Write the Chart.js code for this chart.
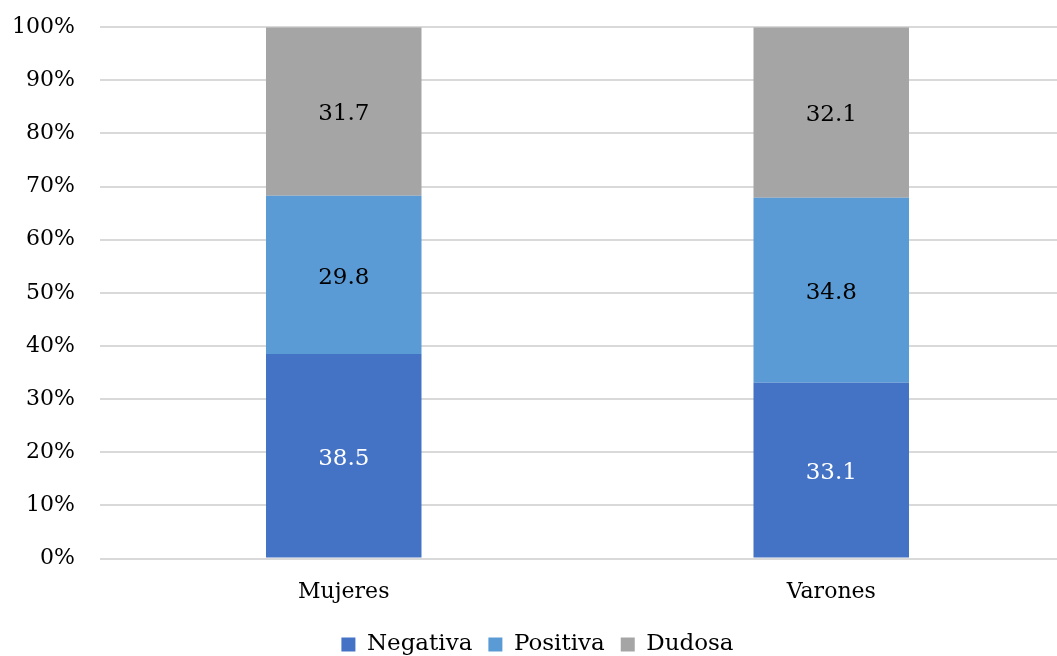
<!DOCTYPE html>
<html lang="es">
<head>
    <meta charset="UTF-8">
    <title>Negativa / Positiva / Dudosa</title>
    <script src="https://cdn.jsdelivr.net/npm/chart.js"></script>
    <style>
        html, body { margin: 0; padding: 0; background: #fff; overflow: hidden; }
        #wrap { position: relative; top: -11px; width: 1075px; height: 677px; }
    </style>
</head>
<body>
    <div id="wrap">
        <canvas id="chart"></canvas>
    </div>

    <script>
        const categories = ['Mujeres', 'Varones'];
        const negativa = [38.5, 33.1];
        const positiva = [29.8, 34.8];
        const dudosa = [31.7, 32.1];
        const yTicks = [0, 10, 20, 30, 40, 50, 60, 70, 80, 90, 100];

        const serif = "'DejaVu Serif', 'Liberation Serif', serif";

        // writes the value in the middle of each segment
        const segmentLabels = {
            id: 'segmentLabels',
            afterDatasetsDraw(chart) {
                const ctx = chart.ctx;
                ctx.save();
                ctx.font = '23px ' + serif;
                ctx.textAlign = 'center';
                ctx.textBaseline = 'middle';
                chart.data.datasets.forEach((ds, i) => {
                    const meta = chart.getDatasetMeta(i);
                    meta.data.forEach((bar, j) => {
                        const y = (bar.y + bar.base) / 2 + 3;
                        ctx.fillStyle = i === 0 ? '#ffffff' : '#000000';
                        ctx.fillText(ds.data[j].toFixed(1), bar.x, y);
                    });
                });
                ctx.restore();
            }
        };

        new Chart(document.getElementById('chart'), {
            type: 'bar',
            data: {
                labels: categories,
                datasets: [
                    { label: 'Negativa', data: negativa, backgroundColor: '#4472c4' },
                    { label: 'Positiva', data: positiva, backgroundColor: '#5b9bd5' },
                    { label: 'Dudosa', data: dudosa, backgroundColor: '#a5a5a5' }
                ]
            },
            options: {
                responsive: true,
                maintainAspectRatio: false,
                animation: false,
                devicePixelRatio: 1,
                categoryPercentage: 1,
                barPercentage: 0.319,
                layout: { padding: { top: 0, left: 0, right: 0, bottom: 0 } },
                plugins: {
                    tooltip: { enabled: false },
                    legend: {
                        position: 'bottom',
                        labels: {
                            color: '#000',
                            font: { family: serif, size: 23 },
                            boxWidth: 14,
                            boxHeight: 14,
                            padding: 16
                        }
                    }
                },
                scales: {
                    x: {
                        stacked: true,
                        grid: { display: false },
                        border: { display: false },
                        ticks: { color: '#000', font: { family: serif, size: 22 }, padding: 12 }
                    },
                    y: {
                        stacked: true,
                        min: 0,
                        max: 100,
                        afterBuildTicks(axis) {
                            axis.ticks = yTicks.map(v => ({ value: v }));
                        },
                        afterFit(axis) {
                            axis.width = 100;
                        },
                        grid: { color: '#d9d9d9', lineWidth: 2, drawTicks: false },
                        border: { display: false },
                        ticks: {
                            color: '#000',
                            padding: 25,
                            font: { family: serif, size: 22 },
                            callback: v => v + '%'
                        }
                    }
                }
            },
            plugins: [segmentLabels]
        });
    </script>
</body>
</html>
